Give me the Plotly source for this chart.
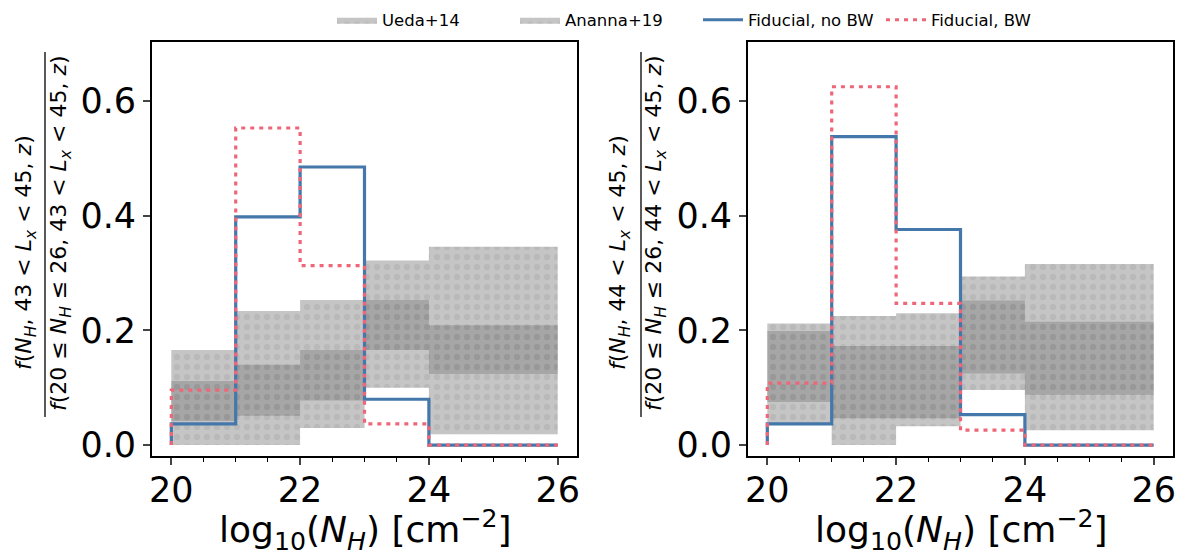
import plotly.graph_objects as go

# ---------------- data ----------------
edges = [20, 21, 22, 23, 24, 25, 26]

# Fiducial histograms (fraction per bin)
noBW_left = [0.037, 0.398, 0.485, 0.080, 0.0, 0.0]
BW_left = [0.096, 0.553, 0.313, 0.037, 0.0, 0.0]
noBW_right = [0.037, 0.538, 0.376, 0.053, 0.0, 0.0]
BW_right = [0.108, 0.625, 0.247, 0.026, 0.0, 0.0]

# Literature bands (lower / upper per bin)
ueda_lo_left = [0.0, 0.0, 0.030, 0.100, 0.019, 0.019]
ueda_hi_left = [0.112, 0.140, 0.166, 0.253, 0.209, 0.209]
ananna_lo_left = [0.042, 0.051, 0.078, 0.166, 0.124, 0.124]
ananna_hi_left = [0.166, 0.234, 0.253, 0.322, 0.346, 0.346]

ueda_lo_right = [0.035, 0.0, 0.033, 0.096, 0.026, 0.026]
ueda_hi_right = [0.199, 0.173, 0.173, 0.252, 0.215, 0.215]
ananna_lo_right = [0.075, 0.047, 0.047, 0.125, 0.088, 0.088]
ananna_hi_right = [0.212, 0.225, 0.230, 0.294, 0.316, 0.316]

xticks = [20, 22, 24, 26]
yticks = [0.0, 0.2, 0.4, 0.6]
yticklabels = ["0.0", "0.2", "0.4", "0.6"]

BLUE = "#4477AA"
RED = "#EE6677"
FONT = "DejaVu Sans"

# the page body has an 8px margin; size the figure so it fits the 1190x558 window
OFF = 8
W, H = 1190 - OFF, 558 - OFF


def px(sx):
    return (sx - OFF) / W


def py(sy):
    return (H - (sy - OFF)) / H


def band_xy(lo, hi):
    xs, ys = [], []
    for i in range(len(lo)):
        x0, x1 = edges[i], edges[i + 1]
        xs += [x0, x1, x1, x0, x0, None]
        ys += [lo[i], lo[i], hi[i], hi[i], lo[i], None]
    return xs, ys


def step_xy(vals):
    xs = [edges[0]] + list(edges)
    ys = [0.0] + list(vals) + [vals[-1]]
    return xs, ys


fig = go.Figure()

panels = [
    ("x", "y", ueda_lo_left, ueda_hi_left, ananna_lo_left, ananna_hi_left, noBW_left, BW_left, True),
    ("x2", "y2", ueda_lo_right, ueda_hi_right, ananna_lo_right, ananna_hi_right, noBW_right, BW_right, False),
]

for xa, ya, ulo, uhi, alo, ahi, nob, bw, show in panels:
    for name, lo, hi in [("Ueda+14", ulo, uhi), ("Ananna+19", alo, ahi)]:
        bx, by = band_xy(lo, hi)
        fig.add_trace(go.Scatter(
            x=bx, y=by, mode="lines", fill="toself", name=name,
            line=dict(width=0, color="rgba(0,0,0,0)"),
            fillcolor="rgba(128,128,128,0.46)",
            fillpattern=dict(shape=".", size=10, solidity=0.3,
                             fgcolor="rgba(110,110,110,0.28)",
                             bgcolor="rgba(128,128,128,0.46)"),
            xaxis=xa, yaxis=ya, showlegend=show, legendgroup=name,
            hoverinfo="skip"))
    sx, sy = step_xy(nob)
    fig.add_trace(go.Scatter(
        x=sx, y=sy, mode="lines", line_shape="hv", name="Fiducial, no BW",
        line=dict(color=BLUE, width=3.2), xaxis=xa, yaxis=ya,
        showlegend=show, legendgroup="nobw"))
    sx, sy = step_xy(bw)
    fig.add_trace(go.Scatter(
        x=sx, y=sy, mode="lines", line_shape="hv", name="Fiducial, BW",
        line=dict(color=RED, width=3.2, dash="4px,5px"), xaxis=xa, yaxis=ya,
        showlegend=show, legendgroup="bw"))

xaxis_common = dict(
    range=[19.7, 26.3], tickvals=xticks, ticks="outside", ticklen=7, tickwidth=1.5,
    showline=True, linecolor="black", linewidth=1.8, mirror=True, showgrid=False,
    zeroline=False, tickfont=dict(size=35, color="black", family=FONT),
    ticklabelstandoff=-5, automargin=False,
    minor=dict(dtick=0.5, ticks="outside", ticklen=4, tickwidth=1.2, tickcolor="black", showgrid=False),
)
yaxis_common = dict(
    range=[-0.019, 0.703], tickvals=yticks, ticktext=yticklabels,
    ticks="outside", ticklen=7, tickwidth=1.5, automargin=False,
    showline=True, linecolor="black", linewidth=1.8, mirror=True, showgrid=False,
    zeroline=False, tickfont=dict(size=35, color="black", family=FONT),
)

fig.update_layout(
    width=W, height=H,
    margin=dict(l=0, r=0, t=0, b=0, autoexpand=False),
    paper_bgcolor="white", plot_bgcolor="white",
    font=dict(family=FONT, color="black"),
    xaxis=dict(domain=[px(152), px(577)], anchor="y", **xaxis_common),
    yaxis=dict(domain=[py(456), py(42)], anchor="x", **yaxis_common),
    xaxis2=dict(domain=[px(748), px(1173)], anchor="y2", **xaxis_common),
    yaxis2=dict(domain=[py(456), py(42)], anchor="x2", **yaxis_common),
    legend=dict(orientation="h", x=690 / W, xanchor="center", y=1.01, yanchor="top",
                yref="paper",
                font=dict(size=16.5, color="black", family=FONT),
                bgcolor="rgba(255,255,255,0)", itemwidth=40,
                entrywidth=128, entrywidthmode="pixels"),
)

# x-axis titles
xtitle = "log<sub>10</sub>(<i>N<sub>H</sub></i>) [cm<sup>−2</sup>]"
for cx in [365, 961]:
    fig.add_annotation(text=xtitle, x=px(cx), y=py(530), xref="paper", yref="paper",
                       xanchor="center", yanchor="middle", showarrow=False,
                       font=dict(size=36, color="black", family=FONT))

# y-axis titles as fractions
num_left = "<i>f</i>(<i>N<sub>H</sub></i>, 43 &lt; <i>L<sub>x</sub></i> &lt; 45, <i>z</i>)"
den_left = "<i>f</i>(20 ≤ <i>N<sub>H</sub></i> ≤ 26, 43 &lt; <i>L<sub>x</sub></i> &lt; 45, <i>z</i>)"
num_right = "<i>f</i>(<i>N<sub>H</sub></i>, 44 &lt; <i>L<sub>x</sub></i> &lt; 45, <i>z</i>)"
den_right = "<i>f</i>(20 ≤ <i>N<sub>H</sub></i> ≤ 26, 44 &lt; <i>L<sub>x</sub></i> &lt; 45, <i>z</i>)"

for text, tx, ty in [(num_left, 25, 253), (den_left, 61, 233),
                     (num_right, 619, 253), (den_right, 656, 233)]:
    fig.add_annotation(text=text, x=px(tx), y=py(ty), xref="paper", yref="paper",
                       xanchor="center", yanchor="middle", textangle=-90, showarrow=False,
                       font=dict(size=22, color="black", family=FONT))

for lx in [45, 641]:
    fig.add_shape(type="line", xref="paper", yref="paper",
                  x0=px(lx), x1=px(lx), y0=py(52), y1=py(417),
                  line=dict(color="black", width=1.3))

fig.write_html("out.html")
